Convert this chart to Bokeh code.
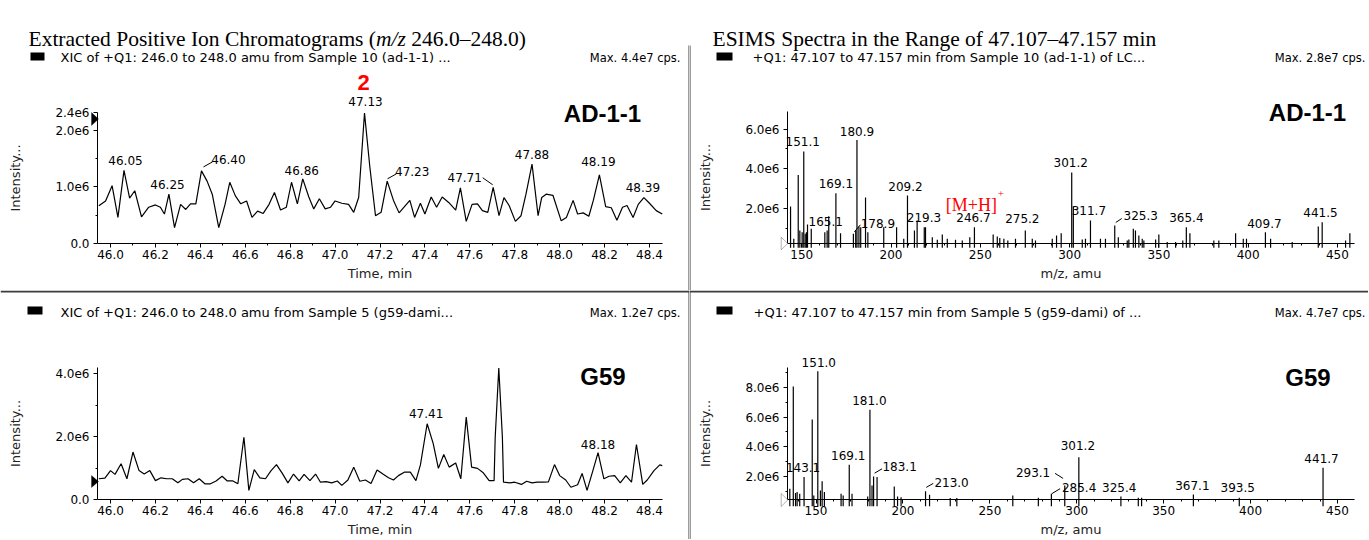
import numpy as np
from bokeh.plotting import figure
from bokeh.models import (Range1d, SingleIntervalTicker, FixedTicker, CustomJSTickFormatter,
                          Label, LabelSet, ColumnDataSource, BoxAnnotation, PolyAnnotation)
from bokeh.layouts import row, column
from bokeh.embed import file_html
from bokeh.resources import INLINE
from bokeh.core.properties import value

# ---------------- data ----------------
title_left = ["Extracted Positive Ion Chromatograms (", "m/z", "246.0\u2013248.0)"]
title_right = "ESIMS Spectra in the Range of 47.107\u201347.157 min"

hdr_tl = "XIC of +Q1: 246.0 to 248.0 amu from Sample 10 (ad-1-1) ..."
max_tl = "Max. 4.4e7 cps."
hdr_tr = "+Q1: 47.107 to 47.157 min from Sample 10 (ad-1-1) of LC..."
max_tr = "Max. 2.8e7 cps."
hdr_bl = "XIC of +Q1: 246.0 to 248.0 amu from Sample 5 (g59-dami..."
max_bl = "Max. 1.2e7 cps."
hdr_br = "+Q1: 47.107 to 47.157 min from Sample 5 (g59-dami) of ..."
max_br = "Max. 4.7e7 cps."

sample_top = "AD-1-1"
sample_bot = "G59"
compound_no = "2"

# XIC of sample AD-1-1: time (min), intensity (1e6 cps)
ad_xic_time = [45.948, 45.978, 46.007, 46.033, 46.060, 46.085, 46.108, 46.138, 46.170, 46.200,
               46.222, 46.240, 46.260, 46.285, 46.312, 46.335, 46.356, 46.380, 46.405, 46.430,
               46.453, 46.482, 46.510, 46.531, 46.556, 46.580, 46.606, 46.630, 46.655, 46.680,
               46.706, 46.730, 46.757, 46.783, 46.806, 46.832, 46.856, 46.883, 46.905, 46.930,
               46.956, 46.980, 47.000, 47.030, 47.060, 47.083, 47.105, 47.131, 47.155, 47.180,
               47.205, 47.232, 47.260, 47.285, 47.307, 47.333, 47.354, 47.380, 47.400, 47.428,
               47.452, 47.477, 47.507, 47.537, 47.558, 47.584, 47.610, 47.634, 47.656, 47.680,
               47.704, 47.730, 47.752, 47.775, 47.803, 47.828, 47.850, 47.877, 47.904, 47.920,
               47.940, 47.970, 48.007, 48.030, 48.060, 48.080, 48.105, 48.130, 48.150, 48.177,
               48.205, 48.230, 48.255, 48.280, 48.300, 48.327, 48.350, 48.375, 48.400, 48.430,
               48.457]
ad_xic_int = [0.665, 0.75, 1.02, 0.46, 1.29, 0.80, 0.93, 0.47, 0.64, 0.68,
              0.64, 0.52, 0.87, 0.28, 0.69, 0.60, 0.70, 0.70, 1.28, 1.10,
              0.87, 0.28, 0.69, 1.08, 0.84, 0.70, 0.75, 0.46, 0.57, 0.53,
              0.69, 0.90, 0.59, 0.64, 1.08, 0.70, 1.14, 0.82, 0.61, 0.79,
              0.61, 0.64, 0.75, 0.71, 0.69, 0.55, 0.81, 2.30, 1.34, 0.49,
              0.55, 1.10, 0.76, 0.54, 0.64, 0.76, 0.46, 0.71, 0.52, 0.82,
              0.64, 0.82, 0.72, 0.59, 0.98, 0.39, 0.69, 0.70, 0.58, 0.55,
              0.99, 0.49, 0.81, 0.67, 0.39, 0.49, 0.87, 1.40, 0.49, 0.81,
              0.87, 0.85, 0.40, 0.46, 0.76, 0.52, 0.54, 0.48, 0.76, 1.21,
              0.65, 0.63, 0.41, 0.64, 0.67, 0.46, 0.69, 0.81, 0.71, 0.58,
              0.52]
ad_xic_peaks = ["46.05", "46.25", "46.40", "46.86", "47.13", "47.23", "47.71", "47.88", "48.19", "48.39"]

# XIC of sample G59
g59_xic_time = [45.948, 45.975, 46.000, 46.020, 46.047, 46.073, 46.100, 46.127, 46.150, 46.175,
                46.200, 46.225, 46.250, 46.275, 46.300, 46.320, 46.345, 46.370, 46.395, 46.420,
                46.445, 46.470, 46.497, 46.520, 46.545, 46.567, 46.594, 46.616, 46.640, 46.665,
                46.690, 46.715, 46.739, 46.765, 46.790, 46.815, 46.840, 46.862, 46.888, 46.913,
                46.935, 46.960, 46.985, 47.010, 47.030, 47.057, 47.083, 47.110, 47.135, 47.160,
                47.187, 47.213, 47.238, 47.260, 47.282, 47.308, 47.335, 47.360, 47.380, 47.410,
                47.437, 47.460, 47.484, 47.508, 47.537, 47.560, 47.584, 47.608, 47.634, 47.660,
                47.686, 47.708, 47.713, 47.729, 47.745, 47.750, 47.779, 47.800, 47.830, 47.853,
                47.877, 47.900, 47.926, 47.950, 47.977, 48.000, 48.027, 48.050, 48.080, 48.100,
                48.122, 48.148, 48.171, 48.197, 48.220, 48.245, 48.270, 48.295, 48.320, 48.342,
                48.370, 48.390, 48.420, 48.446, 48.457]
g59_xic_int = [0.66, 0.68, 0.92, 0.80, 1.14, 0.66, 1.51, 0.92, 0.81, 0.92,
               0.60, 0.69, 0.66, 0.66, 0.53, 0.64, 0.66, 0.53, 0.66, 0.50,
               0.50, 0.59, 0.74, 0.59, 0.59, 0.50, 1.98, 0.29, 0.95, 0.69,
               0.66, 0.92, 1.11, 0.83, 0.53, 0.81, 0.59, 0.80, 0.60, 0.81,
               0.55, 0.57, 0.53, 0.59, 0.45, 0.62, 1.03, 0.58, 0.62, 0.51,
               0.94, 0.81, 0.69, 0.62, 0.76, 0.87, 0.87, 0.60, 1.10, 2.41,
               1.78, 0.99, 1.43, 1.03, 1.16, 0.66, 2.62, 1.03, 0.99, 0.85,
               0.60, 0.60, 1.98, 4.18, 1.98, 0.55, 0.53, 0.55, 0.48, 0.58,
               0.53, 0.55, 0.55, 0.56, 1.11, 0.76, 0.62, 0.39, 0.47, 0.83,
               0.29, 0.92, 1.49, 0.66, 0.74, 0.76, 0.53, 0.76, 0.55, 1.75,
               0.48, 0.62, 0.92, 1.10, 1.08]
g59_xic_peaks = ["47.41", "48.18"]

# ESIMS spectrum, sample AD-1-1: m/z (amu), intensity (1e6 cps)
ad_ms_mz = [143.7, 145.5, 148.0, 148.9, 150.2, 151.1, 151.9, 152.6, 153.2, 155.3,
            162.9, 164.2, 165.1, 169.1, 171.7, 178.9, 180.2, 180.9, 182.0, 183.0,
            185.7, 187.0, 195.9, 203.1, 207.1, 209.2, 213.1, 214.6, 218.6, 219.3,
            223.1, 225.9, 228.7, 231.5, 236.1, 239.9, 244.1, 246.7, 257.2, 259.5,
            260.9, 263.2, 265.4, 269.7, 275.2, 279.1, 280.9, 290.3, 292.7, 295.3,
            301.2, 302.1, 307.1, 308.9, 311.7, 317.3, 320.1, 325.3, 327.3, 332.3,
            333.2, 335.7, 336.9, 338.8, 340.7, 341.6, 348.2, 350.0, 354.7, 359.4,
            363.4, 365.4, 367.4, 380.8, 383.6, 393.0, 397.3, 399.1, 409.7, 412.6,
            424.7, 439.3, 441.5, 454.6, 457.0]
ad_ms_int = [2.09, 0.46, 3.68, 0.88, 0.79, 4.87, 0.71, 0.79, 1.18, 0.96,
             0.79, 0.88, 1.60, 2.76, 0.74, 0.71, 0.88, 5.45, 1.08, 1.04,
             2.55, 0.79, 1.04, 1.04, 0.46, 2.64, 0.88, 1.38, 1.04, 1.04,
             0.54, 0.41, 0.67, 0.46, 0.41, 0.37, 0.54, 1.04, 0.67, 0.57,
             0.50, 0.46, 0.37, 0.46, 0.88, 0.46, 0.37, 0.46, 0.62, 0.74,
             3.81, 2.09, 0.42, 0.46, 1.38, 0.46, 0.46, 1.13, 0.54, 0.37,
             0.42, 0.96, 0.88, 0.62, 0.46, 0.37, 0.42, 0.67, 0.29, 0.29,
             0.37, 1.04, 0.74, 0.37, 0.37, 0.74, 0.46, 0.46, 0.79, 0.46,
             0.29, 1.08, 1.30, 0.37, 0.74]
ad_ms_peaks = ["151.1", "180.9", "169.1", "165.1", "178.9", "209.2", "219.3", "246.7", "275.2",
               "301.2", "311.7", "325.3", "365.4", "409.7", "441.5"]
mh_label = "[M+H]"

# ESIMS spectrum, sample G59
g59_ms_mz = [134.9, 136.9, 138.2, 139.1, 140.6, 143.1, 147.8, 148.7, 151.0, 152.5,
             153.5, 154.8, 164.4, 165.6, 169.1, 170.7, 179.7, 181.0, 182.2, 183.1,
             185.1, 195.0, 196.9, 198.9, 213.0, 215.3, 227.2, 231.0, 263.2, 277.9,
             285.4, 293.1, 301.2, 325.4, 335.4, 337.3, 367.1, 393.5, 441.7]
g59_ms_int = [1.18, 8.05, 0.88, 0.95, 0.84, 1.96, 5.83, 0.72, 9.08, 1.06,
              1.67, 0.95, 0.84, 0.72, 2.79, 0.84, 0.66, 6.48, 1.40, 2.00,
              1.96, 1.33, 0.66, 0.60, 1.01, 0.77, 0.55, 0.55, 0.72, 0.57,
              0.84, 1.40, 3.30, 0.66, 0.57, 0.57, 0.79, 0.57, 2.59]
g59_ms_peaks = ["151.0", "181.0", "169.1", "143.1", "183.1", "213.0", "293.1", "285.4",
                "301.2", "325.4", "367.1", "393.5", "441.7"]

# ---------------- styles / geometry ----------------
FONT = "DejaVu Sans"
BOLD = "Liberation Sans"
SERIF = "Liberation Serif"
TXT = "#000000"
SEP = "#3c3c3c"

# label offsets (screen px, y up) relative to the peak top
off_tl = {"46.05": (1.5, 9.6), "46.25": (-1.4, 9.4), "46.40": (27, 11), "46.86": (-1, 8),
          "47.13": (1, 12), "47.23": (25, 10), "47.71": (-28.5, 9.6), "47.88": (0, 10),
          "48.19": (-1, 13), "48.39": (-1, 10)}
lead_tl = {"46.40": (2, 4, 11, 9), "47.23": (0.3, 2.3, 9.3, 7.3), "47.71": (-0.5, 2.6, -10.5, 9.6)}
off_bl = {"47.41": (-1, 10), "48.18": (0, 8)}
off_tr = {"151.1": (-1, 9.7), "180.9": (0, 8.5), "169.1": (0, 10), "165.1": (-3, -5),
          "178.9": (24.5, 10.6), "209.2": (-2, 9), "219.3": (-1.5, 10), "246.7": (-1, 10),
          "275.2": (-3, 12), "301.2": (-1, 10), "311.7": (-1.6, 10), "325.3": (26, 10),
          "365.4": (0, 10), "409.7": (-1, 9), "441.5": (-1.7, 10)}
lead_tr = {"178.9": (1, 2, 7, 9), "325.3": (1, 3, 7, 7)}
off_br = {"151.0": (1, 9), "181.0": (-0.6, 9.4), "169.1": (-1, 9.3), "143.1": (-1, 10),
          "183.1": (26, 10), "213.0": (26, 9), "293.1": (-31.7, 13.3), "285.4": (27.7, 6.6),
          "301.2": (-1, 11.7), "325.4": (-1.7, 9.3), "367.1": (-1, 9), "393.5": (-1.5, 10),
          "441.7": (-1.5, 9)}
lead_br = {"183.1": (1, 3.3, 8.5, 7.7), "213.0": (0.7, 3.8, 7.7, 7.8),
           "293.1": (-1.7, 7, -9.7, 12), "285.4": (0.4, 0, 8.7, 5)}

GEOM = {}


def make_panel(canvas, region, xdata, ydata, xlabel, xstand):
    """canvas = (left, top, w, h) in page px; region = plot area (left, right, top, bottom) in page px."""
    cl, ct, w, h = canvas
    x0p, x1p, ytp, ybp = region
    kx = (x1p - x0p) / (xdata[1] - xdata[0])
    ky = (ybp - ytp) / (ydata[1] - ydata[0])
    xr = (xdata[0] - (x0p - cl) / kx, xdata[1] + (cl + w - x1p) / kx)
    yr = (ydata[0] - (ct + h - ybp) / ky, ydata[1] + (ytp - ct) / ky)
    p = figure(width=w, height=h, x_range=Range1d(*xr), y_range=Range1d(*yr),
               output_backend="svg", toolbar_location=None,
               min_border_left=0, min_border_right=0, min_border_top=0, min_border_bottom=0)
    p.grid.visible = False
    p.outline_line_color = None
    p.background_fill_color = "white"
    p.border_fill_color = "white"
    for ax in (p.xaxis[0], p.yaxis[0]):
        ax.axis_line_color = "black"
        ax.major_tick_line_color = "black"
        ax.minor_tick_line_color = "black"
        ax.major_tick_out = 4
        ax.major_tick_in = 0
        ax.minor_tick_out = 2
        ax.minor_tick_in = 0
        ax.major_label_text_font = FONT
        ax.major_label_text_font_size = "12px"
        ax.major_label_text_color = TXT
        ax.axis_label_text_font = FONT
        ax.axis_label_text_font_size = "13px"
        ax.axis_label_text_font_style = "normal"
        ax.axis_label_text_color = "#222222"
    xa, ya = p.xaxis[0], p.yaxis[0]
    xa.fixed_location = ydata[0]
    xa.bounds = tuple(xdata)
    ya.fixed_location = xdata[0]
    ya.bounds = tuple(ydata)
    xa.axis_label = xlabel
    ya.axis_label = "Intensity..."
    xa.major_label_standoff = 2
    xa.axis_label_standoff = xstand
    ya.major_label_standoff = 4
    ya.axis_label_standoff = 29
    GEOM[p.id] = (cl, ct, w, h, kx, ky)
    return p


def scr(p, x, y):
    cl, ct, w, h, kx, ky = GEOM[p.id]
    return x - cl, ct + h - y


def label_at(p, x, y, text, font, size, align="left", baseline="middle", style="normal", color=TXT):
    sx, sy = scr(p, x, y)
    p.add_layout(Label(x=sx, y=sy, x_units="screen", y_units="screen", text=text,
                       text_font=font, text_font_size=size, text_font_style=style,
                       text_color=color, text_align=align, text_baseline=baseline))


def box_at(p, x0, x1, y0, y1, color):
    l, t = scr(p, x0, y0)
    r, b = scr(p, x1, y1)
    p.add_layout(BoxAnnotation(left=l, right=r, top=t, bottom=b,
                               left_units="screen", right_units="screen",
                               top_units="screen", bottom_units="screen",
                               fill_color=color, fill_alpha=1, line_color=None))


def tri_at(p, pts, fill):
    xs, ys = zip(*[scr(p, x, y) for x, y in pts])
    p.add_layout(PolyAnnotation(xs=list(xs), ys=list(ys), xs_units="screen", ys_units="screen",
                                fill_color=fill, fill_alpha=1, line_color="black", line_width=1))


def header(p, box, ty, tx, text, mx, mtext):
    box_at(p, box[0], box[1], box[2], box[3], "black")
    label_at(p, tx, ty, text, FONT, "13px")
    label_at(p, mx, ty, mtext, FONT, "11.5px", align="right")


def y_formatter(top=1e9, lab=""):
    return CustomJSTickFormatter(args=dict(top=top, lab=lab), code="""
        if (Math.abs(tick) < 1e-9) return "0.0";
        if (tick >= top - 1e-6) return lab;
        return tick.toFixed(1) + "e6";""")


def peak_labels(p, xs, ys, labels, offs, leads):
    dx = [offs.get(l, (0, 10))[0] for l in labels]
    dy = [offs.get(l, (0, 10))[1] for l in labels]
    src = ColumnDataSource(dict(x=xs, y=ys, text=labels, dx=dx, dy=dy))
    p.add_layout(LabelSet(x="x", y="y", text="text", x_offset="dx", y_offset="dy", source=src,
                          text_font=value(FONT), text_font_size=value("12px"),
                          text_color=TXT, text_align="center", text_baseline="middle"))
    kx, ky = GEOM[p.id][4], GEOM[p.id][5]
    x0, y0, x1, y1 = [], [], [], []
    for l, x, y in zip(labels, xs, ys):
        if l in leads:
            a, b, c, d = leads[l]
            x0.append(x + a / kx); y0.append(y + b / ky)
            x1.append(x + c / kx); y1.append(y + d / ky)
    if x0:
        p.segment(x0=x0, y0=y0, x1=x1, y1=y1, line_color="black", line_width=1)


def chrom_anchors(t, I, labels):
    t = np.asarray(t); I = np.asarray(I)
    xs, ys = [], []
    for l in labels:
        i = int(np.argmin(np.abs(t - float(l))))
        lo, hi = max(i - 1, 0), min(i + 2, len(t))
        j = lo + int(np.argmax(I[lo:hi]))
        xs.append(float(t[j])); ys.append(float(I[j]))
    return xs, ys


def ms_anchors(mz, I, labels):
    mz = np.asarray(mz); I = np.asarray(I)
    xs, ys = [], []
    for l in labels:
        j = int(np.argmin(np.abs(mz - float(l))))
        xs.append(float(mz[j])); ys.append(float(I[j]))
    return xs, ys


def chrom_axes(p):
    p.xaxis[0].ticker = SingleIntervalTicker(interval=0.2, num_minor_ticks=2)
    p.xaxis[0].formatter = CustomJSTickFormatter(code="return tick.toFixed(1);")


def ms_axes(p):
    p.xaxis[0].ticker = SingleIntervalTicker(interval=50, num_minor_ticks=5)
    p.xaxis[0].formatter = CustomJSTickFormatter(code="return tick.toFixed(0);")


# page: 1368 x 539, content starts at the window's top-left corner
LW, RW, TH, BH = 689, 679, 290, 249
RL = LW
BT = TH

# ---------------- top-left: XIC AD-1-1 ----------------
tl_top = 2.31
p_tl = make_panel((0, 0, LW, TH), (97, 662, 112, 243), (45.942, 48.458), (0, tl_top), "Time, min", 4)
chrom_axes(p_tl)
p_tl.yaxis[0].ticker = FixedTicker(ticks=[0, 1, 2, tl_top], minor_ticks=[0.5, 1.5])
p_tl.yaxis[0].formatter = y_formatter(tl_top, "2.4e6")
p_tl.line(ad_xic_time, ad_xic_int, line_color="black", line_width=1.2)
xs, ys = chrom_anchors(ad_xic_time, ad_xic_int, ad_xic_peaks)
peak_labels(p_tl, xs, ys, ad_xic_peaks, off_tl, lead_tl)
j = ad_xic_peaks.index("47.13")
p_tl.add_layout(Label(x=xs[j], y=ys[j], x_offset=-1, y_offset=31, text=compound_no,
                      text_font=BOLD, text_font_style="bold", text_font_size="22px",
                      text_color="#ff0000", text_align="center", text_baseline="middle"))
# title with italic m/z (Times metrics: 16.165 em, 1.389 em, space 0.25 em)
TS = 21.5
TY = 38
label_at(p_tl, 28, TY, title_left[0], SERIF, f"{TS}px", baseline="alphabetic")
label_at(p_tl, 28 + 16.165 * TS, TY, title_left[1], SERIF, f"{TS}px", baseline="alphabetic", style="italic")
label_at(p_tl, 28 + (16.165 + 1.389 + 0.25) * TS, TY, title_left[2], SERIF, f"{TS}px", baseline="alphabetic")
header(p_tl, (30, 44, 52, 60), 57, 60, hdr_tl, 680, max_tl)
label_at(p_tl, 602, 113, sample_top, BOLD, "24px", align="center", style="bold")
tri_at(p_tl, [(91, 112), (98, 118.5), (91, 125)], "black")
box_at(p_tl, 688, 689, 45, TH, SEP)

# ---------------- top-right: MS AD-1-1 ----------------
p_tr = make_panel((RL, 0, RW, TH), (787, 1354, 111, 243), (141.99, 459.6), (0.22, 6.89), "m/z, amu", 4)
ms_axes(p_tr)
p_tr.yaxis[0].ticker = FixedTicker(ticks=[2, 4, 6], minor_ticks=[1, 3, 5])
p_tr.yaxis[0].formatter = y_formatter()
p_tr.segment(x0=ad_ms_mz, y0=[0] * len(ad_ms_mz), x1=ad_ms_mz, y1=ad_ms_int, line_color="black", line_width=1.2)
xs, ys = ms_anchors(ad_ms_mz, ad_ms_int, ad_ms_peaks)
peak_labels(p_tr, xs, ys, ad_ms_peaks, off_tr, lead_tr)
j = ad_ms_peaks.index("246.7")
p_tr.add_layout(Label(x=xs[j], y=ys[j], x_offset=-3, y_offset=22, text=mh_label,
                      text_font=SERIF, text_font_size="18px", text_color="#ff0000",
                      text_align="center", text_baseline="middle"))
p_tr.add_layout(Label(x=xs[j], y=ys[j], x_offset=26.5, y_offset=34, text="+",
                      text_font=SERIF, text_font_size="11px", text_color="#ff0000",
                      text_align="center", text_baseline="middle"))
label_at(p_tr, 712, TY, title_right, SERIF, f"{TS}px", baseline="alphabetic")
header(p_tr, (716, 732, 52, 60), 57, 752, hdr_tr, 1365, max_tr)
label_at(p_tr, 1307, 112, sample_top, BOLD, "24px", align="center", style="bold")
tri_at(p_tr, [(780.7, 236.7), (787.3, 243), (780.7, 249.3)], "white")
box_at(p_tr, RL, RL + 1, 45, TH, SEP)

# ---------------- bottom-left: XIC G59 ----------------
p_bl = make_panel((0, BT, LW, BH), (97, 662, 367, 499), (45.942, 48.458), (0, 4.2), "Time, min", 4)
chrom_axes(p_bl)
p_bl.yaxis[0].ticker = FixedTicker(ticks=[0, 2, 4], minor_ticks=[1, 3])
p_bl.yaxis[0].formatter = y_formatter()
p_bl.line(g59_xic_time, g59_xic_int, line_color="black", line_width=1.2)
xs, ys = chrom_anchors(g59_xic_time, g59_xic_int, g59_xic_peaks)
peak_labels(p_bl, xs, ys, g59_xic_peaks, off_bl, {})
header(p_bl, (27, 42, 306, 314), 312, 60, hdr_bl, 680, max_bl)
label_at(p_bl, 602.5, 376, sample_bot, BOLD, "24px", align="center", style="bold")
tri_at(p_bl, [(91, 475), (98, 481), (91, 487)], "black")
box_at(p_bl, 0, LW, BT, BT + 2, SEP)
box_at(p_bl, 688, 689, BT, BT + BH, SEP)

# ---------------- bottom-right: MS G59 ----------------
p_br = make_panel((RL, BT, RW, BH), (787, 1354, 367, 499), (133.57, 459.8), (0.45, 9.33), "m/z, amu", 4)
ms_axes(p_br)
p_br.yaxis[0].ticker = FixedTicker(ticks=[2, 4, 6, 8], minor_ticks=[1, 3, 5, 7, 9])
p_br.yaxis[0].formatter = y_formatter()
p_br.segment(x0=g59_ms_mz, y0=[0] * len(g59_ms_mz), x1=g59_ms_mz, y1=g59_ms_int, line_color="black", line_width=1.2)
xs, ys = ms_anchors(g59_ms_mz, g59_ms_int, g59_ms_peaks)
peak_labels(p_br, xs, ys, g59_ms_peaks, off_br, lead_br)
header(p_br, (716, 732, 306, 314), 312, 753, hdr_br, 1365, max_br)
label_at(p_br, 1307.5, 376.5, sample_bot, BOLD, "24px", align="center", style="bold")
tri_at(p_br, [(780.7, 493), (787.3, 499.5), (780.7, 506)], "white")
box_at(p_br, RL, RL + RW, BT, BT + 2, SEP)
box_at(p_br, RL, RL + 1, BT, BT + BH, SEP)

# ---------------- layout ----------------
page = column(row(p_tl, p_tr), row(p_bl, p_br))

open("out.html", "w").write(file_html(page, INLINE))
